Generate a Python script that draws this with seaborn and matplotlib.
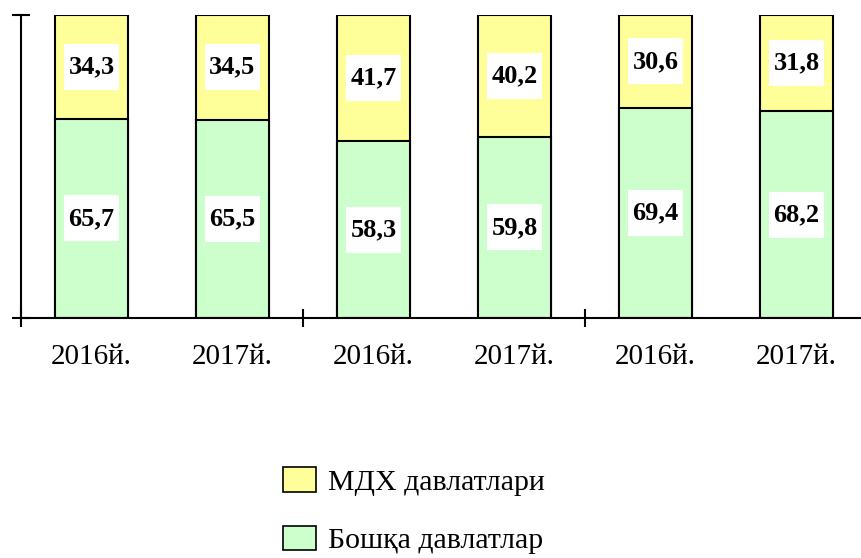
import numpy as np
import matplotlib
matplotlib.use('Agg')
import matplotlib.pyplot as plt
from matplotlib.patches import Patch, Rectangle
import pandas as pd
import seaborn as sns

years = ['2016й.', '2017й.', '2016й.', '2017й.', '2016й.', '2017й.']
mdh = [34.3, 34.5, 41.7, 40.2, 30.6, 31.8]
boshqa = [65.7, 65.5, 58.3, 59.8, 69.4, 68.2]
series_names = ['МДХ давлатлари', 'Бошқа давлатлар']

yellow = '#FFFF99'
green = '#CCFFCC'

sns.set_theme(style='white')
plt.rcParams['font.family'] = ['Liberation Serif', 'DejaVu Serif']
plt.rcParams['text.color'] = 'black'
plt.rcParams['xtick.color'] = 'black'
plt.rcParams['ytick.color'] = 'black'

df = pd.DataFrame({'pos': range(len(years)), 'mdh': mdh, 'boshqa': boshqa})
df['total'] = df['mdh'] + df['boshqa']

fig = plt.figure(figsize=(8.61, 5.58), dpi=100)
ax = fig.add_axes([21 / 861, 1 - 318 / 558, 846 / 861, 303 / 558])

sns.barplot(data=df, x='pos', y='total', color=yellow, saturation=1,
            edgecolor='black', linewidth=1.5, width=0.52, ax=ax)
sns.barplot(data=df, x='pos', y='boshqa', color=green, saturation=1,
            edgecolor='black', linewidth=1.5, width=0.52, ax=ax)

ax.set_xlim(-0.5, 5.5)
ax.set_ylim(0, 100)
ax.set_xlabel('')
ax.set_ylabel('')

# value labels in white boxes
px_x = 846 / 6.0
px_y = 303 / 100.0
bw, bh = 55 / px_x, 46 / px_y
for i in range(len(years)):
    for yc, v in [(boshqa[i] / 2, boshqa[i]), (boshqa[i] + mdh[i] / 2, mdh[i])]:
        ax.add_patch(Rectangle((i - bw / 2, yc - bh / 2), bw, bh,
                               facecolor='white', edgecolor='none', zorder=5))
        ax.text(i, yc, f'{v:.1f}'.replace('.', ','), ha='center', va='center',
                fontsize=19, fontweight='bold', color='black', zorder=6)

for s in ['top', 'right']:
    ax.spines[s].set_visible(False)
for s in ['left', 'bottom']:
    ax.spines[s].set_color('black')
    ax.spines[s].set_linewidth(1.5)

ax.set_xticks([-0.5, 1.5, 3.5, 5.5])
ax.set_xticklabels([])
ax.set_xticks(range(len(years)), minor=True)
ax.set_xticklabels(years, minor=True, fontsize=21, color='black')
ax.tick_params(axis='x', which='major', direction='inout', length=13, width=1.5,
               color='black', bottom=True)
ax.tick_params(axis='x', which='minor', length=0, pad=19, bottom=True)
ax.set_yticks([0, 100])
ax.set_yticklabels([])
ax.tick_params(axis='y', direction='inout', length=13, width=1.5, color='black', left=True)

handles = [Patch(facecolor=yellow, edgecolor='black', linewidth=1.2),
           Patch(facecolor=green, edgecolor='black', linewidth=1.2)]
fig.legend(handles, series_names, loc='upper left',
           bbox_to_anchor=(283 / 861, 1 - 467 / 558), frameon=False,
           fontsize=21.5, handlelength=1.1, handleheight=0.9,
           handletextpad=0.4, labelspacing=1.0, borderpad=0, borderaxespad=0)

plt.savefig('out.png', dpi=100)
